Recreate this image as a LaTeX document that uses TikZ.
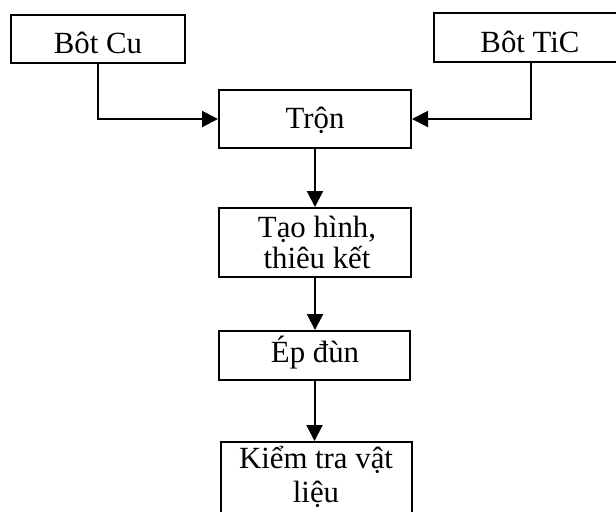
\documentclass[tikz,border=0pt]{standalone}
\usepackage{fontspec}
\setmainfont{Liberation Serif}
\usetikzlibrary{arrows.meta}
\begin{document}
\begin{tikzpicture}[x=0.5pt,y=-0.5pt,
  stage/.style={draw,line width=1pt,rectangle,inner sep=0pt},
  caption/.style={anchor=base,inner sep=0pt,font=\fontsize{15.4}{17}\selectfont},
  flow/.style={line width=1pt,-{Triangle[length=8pt,width=8pt]}}]
\useasboundingbox (0,0) rectangle (616,511);
\clip (0,0) rectangle (616,511);
% process boxes
\node[stage,minimum width=87pt,minimum height=24pt] (cu) at (98,39) {};
\node[stage,minimum width=97pt,minimum height=24.5pt] (tic) at (531,37.5) {};
\node[stage,minimum width=96pt,minimum height=29pt] (tron) at (315,119) {};
\node[stage,minimum width=96pt,minimum height=34.5pt] (tao) at (315,242.5) {};
\node[stage,minimum width=95.5pt,minimum height=24.5pt] (ep) at (314.5,355.5) {};
\node[stage,minimum width=95.5pt,minimum height=38pt] (kiem) at (316.5,480) {};
% labels
\node[caption] (cuT) at (98,53) {Bôt Cu};
\node[caption] (ticT) at (530,52) {Bôt TiC};
\node[caption] (tronT) at (315,128) {Trộn};
\node[caption] (taoT1) at (317,237) {Tạo hình,};
\node[caption] (taoT2) at (317,268) {thiêu kết};
\node[caption] (epT) at (315,362) {Ép đùn};
\node[caption] (kiemT1) at (316,468) {Kiểm tra vật};
\node[caption] (kiemT2) at (316,502) {liệu};
% connectors
\draw[flow] (cu.south) |- (tron.west);
\draw[flow] (tic.south) |- (tron.east);
\draw[flow] (tron.south) -- (tao.north);
\draw[flow] (tao.south) -- (tao.south |- ep.north);
\draw[flow] (ep.south) -- (ep.south |- kiem.north);
\end{tikzpicture}
\end{document}
